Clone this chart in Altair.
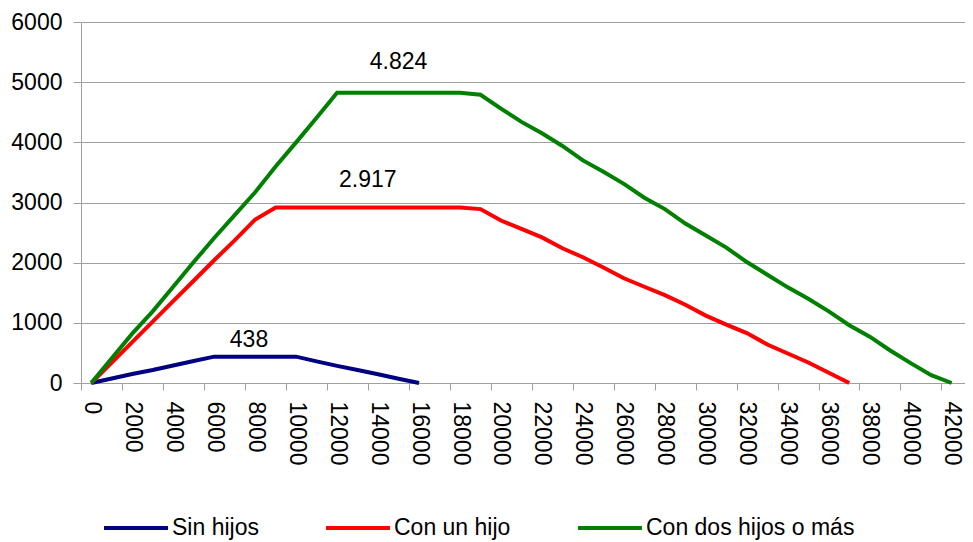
import altair as alt
import pandas as pd

# ---- data ----
x_values = list(range(0, 43000, 1000))

sin_hijos = [0, 75, 150, 215, 290, 365, 438, 438, 438, 438, 438,
             360, 285, 215, 145, 70, 0]

con_un_hijo = [0, 340, 680, 1020, 1360, 1700, 2040, 2371, 2715,
               2917, 2917, 2917, 2917, 2917, 2917, 2917, 2917, 2917, 2917,
               2890, 2700, 2560, 2420, 2240, 2090, 1920, 1740, 1600, 1460,
               1300, 1120, 970, 830, 640, 490, 340, 170, 0]

con_dos_hijos = [0, 410, 820, 1190, 1600, 2010, 2410, 2790, 3170, 3600, 4000, 4410,
                 4824, 4824, 4824, 4824, 4824, 4824, 4824,
                 4790, 4560, 4340, 4150, 3940, 3700, 3510, 3310, 3080, 2890, 2650,
                 2450, 2250, 2010, 1800, 1590, 1400, 1190, 960, 770, 540, 330, 130, 0]

series_names = ["Sin hijos", "Con un hijo", "Con dos hijos o más"]
series_colors = ["#000080", "#FF0000", "#008000"]

y_ticks = [0, 1000, 2000, 3000, 4000, 5000, 6000]

ann_text = ["438", "2.917", "4.824"]
ann_x = [7700, 13500, 15000]
ann_y = [715, 3374, 5343]

# ---- tables ----
rows = []
for name, vals in zip(series_names, [sin_hijos, con_un_hijo, con_dos_hijos]):
    for xv, yv in zip(x_values, vals):
        rows.append({"x": xv, "y": yv, "serie": name})
df = pd.DataFrame(rows)

ann_df = pd.DataFrame({"x": ann_x, "y": ann_y, "t": ann_text})

# category boundaries (Excel-style ticks between categories)
half = 500
tick_vals = [v - half for v in x_values] + [x_values[-1] + half]

FONT = "Liberation Sans"
GRAY = "#a0a0a0"
PLOT_W = 884
X_MAX = 42650
PX_PER_UNIT = PLOT_W / (X_MAX + half)

x_enc = alt.X(
    "x:Q",
    scale=alt.Scale(domain=[-half, X_MAX], nice=False, zero=False),
    axis=alt.Axis(
        values=tick_vals,
        labelExpr="(datum.value + 500) % 2000 == 0 ? format(datum.value + 500, 'd') : ''",
        labelAngle=90, labelAlign="left", labelBaseline="middle",
        labelOffset=half * PX_PER_UNIT,
        tickSize=7, labelPadding=11, grid=False, title=None,
        labelOverlap=False, labelFlush=False, labelBound=False,
        labelFontSize=23,
    ),
)
y_enc = alt.Y(
    "y:Q",
    scale=alt.Scale(domain=[0, 6000], nice=False),
    axis=alt.Axis(values=y_ticks, format="d", tickSize=8, labelPadding=11, title=None,
                  labelFontSize=23, grid=True),
)

lines = alt.Chart(df).mark_line(strokeWidth=4).encode(
    x=x_enc,
    y=y_enc,
    color=alt.Color(
        "serie:N",
        scale=alt.Scale(domain=series_names, range=series_colors),
        sort=series_names,
        legend=alt.Legend(
            orient="none", legendX=21, legendY=472, direction="horizontal",
            title=None, symbolType="stroke", symbolSize=4096, symbolStrokeWidth=4,
            labelFontSize=23, labelFont=FONT, labelColor="black", labelOffset=2,
            columnPadding=59, padding=0, labelLimit=400,
        ),
    ),
)

ann = alt.Chart(ann_df).mark_text(
    fontSize=23, font=FONT, color="black", align="center", baseline="middle"
).encode(x="x:Q", y="y:Q", text="t:N")

chart = alt.layer(lines, ann).properties(
    width=PLOT_W, height=361,
    padding={"left": 73, "top": 14, "right": 0, "bottom": 160},
    autosize=alt.AutoSizeParams(type="none"),
).configure_view(stroke=None).configure_axis(
    labelFont=FONT, labelColor="black", domainColor=GRAY, tickColor=GRAY,
    gridColor=GRAY, domainWidth=1, tickWidth=1, gridWidth=1,
)

chart.save("out.html", embed_options={"renderer": "svg", "actions": False})
